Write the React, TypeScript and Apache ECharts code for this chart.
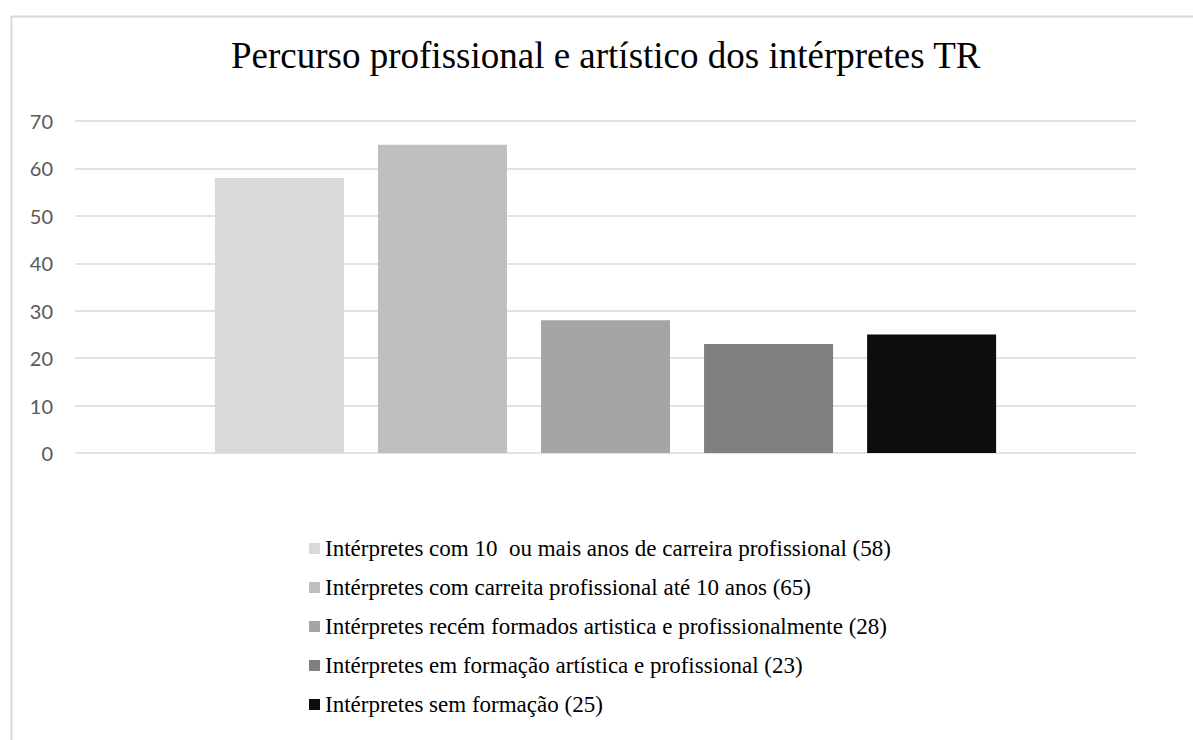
import React, { useEffect, useRef } from "react";
import * as echarts from "echarts";

const titleText = "Percurso profissional e artístico dos intérpretes TR";
const categories = [""];
const seriesNames = [
  "Intérpretes com 10  ou mais anos de carreira profissional (58)",
  "Intérpretes com carreita profissional até 10 anos (65)",
  "Intérpretes recém formados artistica e profissionalmente (28)",
  "Intérpretes em formação artística e profissional (23)",
  "Intérpretes sem formação (25)",
];
const seriesValues = [58, 65, 28, 23, 25];
const seriesColors = ["#d9d9d9", "#bfbfbf", "#a5a5a5", "#7f7f7f", "#0d0d0d"];
const yMin = 0;
const yMax = 70;
const yInterval = 10;

export default function App() {
  const ref = useRef<HTMLDivElement>(null);
  useEffect(() => {
    document.body.style.margin = "0";
    if (!ref.current) return;
    const chart = echarts.init(ref.current, null, { renderer: "svg" });
    const serif = "'Liberation Serif', 'Times New Roman', serif";
    chart.setOption({
      animation: false,
      backgroundColor: "#ffffff",
      title: {
        text: titleText,
        left: 231,
        top: 37,
        padding: 0,
        textStyle: {
          fontFamily: serif,
          fontSize: 37,
          fontWeight: "normal",
          color: "#000000",
          lineHeight: 37,
        },
      },
      graphic: [
        {
          type: "rect",
          left: 9,
          top: 14,
          shape: { x: 0, y: 0, width: 1400, height: 900 },
          style: { fill: "none", stroke: "#d9d9d9", lineWidth: 2 },
          silent: true,
          z: -10,
        },
      ],
      legend: {
        orient: "vertical",
        left: 309,
        top: 537,
        padding: 0,
        itemWidth: 11,
        itemHeight: 11,
        itemGap: 16,
        icon: "rect",
        data: seriesNames,
        textStyle: {
          fontFamily: serif,
          fontSize: 23,
          lineHeight: 23,
          color: "#000000",
        },
      },
      grid: { left: 75, right: 57, top: 121, bottom: 287, containLabel: false },
      xAxis: {
        type: "category",
        data: categories,
        axisLine: { show: false },
        axisTick: { show: false },
        axisLabel: { show: false },
      },
      yAxis: {
        type: "value",
        min: yMin,
        max: yMax,
        interval: yInterval,
        axisLine: { show: false },
        axisTick: { show: false },
        axisLabel: {
          margin: 22,
          color: "#595959",
          fontFamily: "Lato, 'Open Sans', sans-serif",
          fontSize: 20,
        },
        splitLine: { lineStyle: { color: "#d9d9d9", width: 1.5 } },
      },
      series: seriesNames.map((name, i) => ({
        name,
        type: "bar",
        barWidth: 129,
        barGap: "26.4%",
        data: [seriesValues[i]],
        itemStyle: { color: seriesColors[i] },
      })),
    });
    return () => chart.dispose();
  }, []);
  return <div ref={ref} style={{ width: 1193, height: 740 }} />;
}
